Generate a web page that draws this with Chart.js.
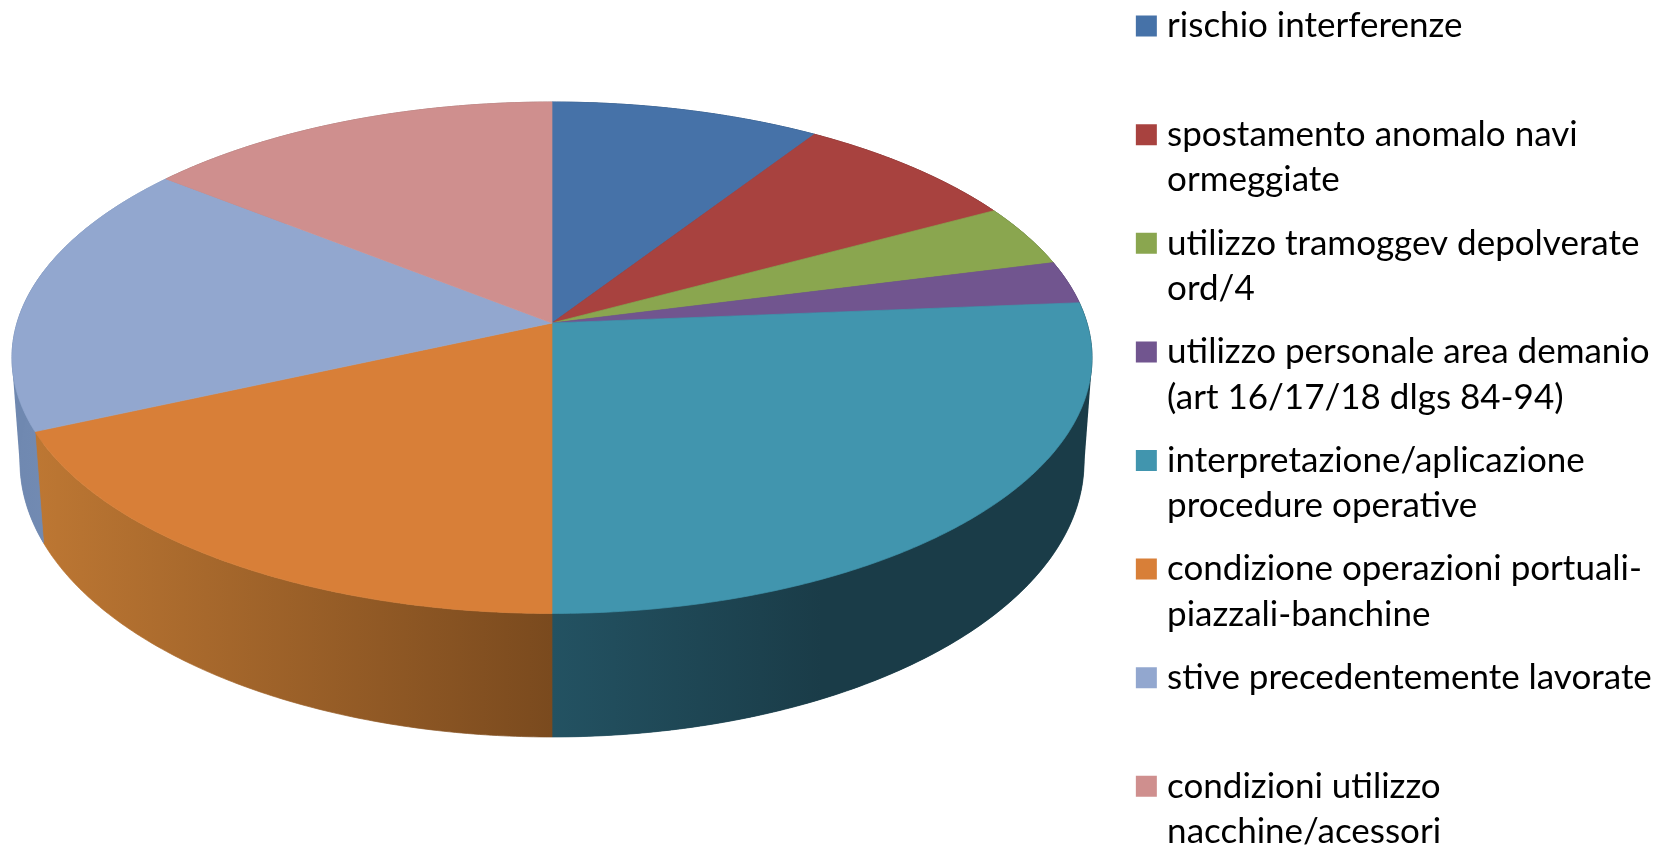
<!DOCTYPE html>
<html>
<head>
<meta charset="utf-8">
<title>Grafico</title>
<script src="https://cdn.jsdelivr.net/npm/chart.js@4/dist/chart.umd.min.js"></script>
<style>
html, body { margin: 0; padding: 0; background: #fff; overflow: hidden; }
canvas { display: block; }
</style>
</head>
<body>
<canvas id="pie" width="1659" height="845"></canvas>
<script>
var categories = [
    ['rischio interferenze', ''],
    ['spostamento anomalo navi', 'ormeggiate'],
    ['utilizzo tramoggev depolverate', 'ord/4'],
    ['utilizzo personale area demanio', '(art 16/17/18 dlgs 84-94)'],
    ['interpretazione/aplicazione', 'procedure operative'],
    ['condizione operazioni portuali-', 'piazzali-banchine'],
    ['stive precedentemente lavorate', ''],
    ['condizioni utilizzo', 'nacchine/acessori']
];
var values = [9.2, 7.9, 3.9, 2.7, 26.3, 18.3, 17.4, 14.3];
var colors = ['#4672a8', '#a8423f', '#8aa64f', '#71558f', '#4195ae', '#d87f38', '#92a7cf', '#cf8f8e'];

// side wall colours, left and right end of the gradient
var wallLeft = ['#2f4f78', '#78302d', '#627638', '#503c66', '#235262', '#bd7733', '#6f88b0', '#936665'];
var wallRight = ['#2f4f78', '#78302d', '#627638', '#503c66', '#1a3c48', '#7a4a1e', '#7d94bb', '#936665'];

// perspective of the top and bottom disc
var topDisc = { x: 552, y: 323, a: 251, b: 535, k: 0.1359 };
var bottomDisc = { x: 552, y: 426.3, a: 270.3, b: 527.5, k: 0.13 };

function project(disc, angle) {
    var u = Math.cos(angle);
    var v = Math.sin(angle);
    var w = 1 - disc.k * v;
    return { x: disc.x + disc.b * u / w, y: disc.y + disc.a * v / w };
}

function rimPoints(disc, start, end) {
    var pts = [];
    var steps = Math.max(2, Math.ceil((end - start) / 0.01));
    for (var i = 0; i <= steps; i++) {
        pts.push(project(disc, start + (end - start) * i / steps));
    }
    return pts;
}

function tracePath(ctx, pts) {
    ctx.beginPath();
    for (var i = 0; i < pts.length; i++) {
        if (i === 0) ctx.moveTo(pts[i].x, pts[i].y);
        else ctx.lineTo(pts[i].x, pts[i].y);
    }
    ctx.closePath();
}

function paint(ctx, pts, style) {
    tracePath(ctx, pts);
    ctx.fillStyle = style;
    ctx.strokeStyle = style;
    ctx.lineWidth = 0.7;
    ctx.fill();
    ctx.stroke();
}

function convexHull(points) {
    var pts = points.slice().sort(function(p, q) { return p.x - q.x || p.y - q.y; });
    function cross(o, p, q) {
        return (p.x - o.x) * (q.y - o.y) - (p.y - o.y) * (q.x - o.x);
    }
    function halfHull(list) {
        var out = [];
        for (var i = 0; i < list.length; i++) {
            while (out.length > 1 && cross(out[out.length - 2], out[out.length - 1], list[i]) <= 0) out.pop();
            out.push(list[i]);
        }
        out.pop();
        return out;
    }
    return halfHull(pts).concat(halfHull(pts.slice().reverse()));
}

var pie3d = {
    id: 'pie3d',
    beforeDatasetsDraw: function(chart) {
        var ctx = chart.ctx;
        var arcs = chart.getDatasetMeta(0).data;
        var i, upper, lower, grad;
        var hull = convexHull(rimPoints(topDisc, 0, Math.PI * 2).concat(rimPoints(bottomDisc, 0, Math.PI * 2)));
        var leftEdge = project(bottomDisc, arcs[5].endAngle).x;

        ctx.save();
        ctx.lineJoin = 'round';

        // straight sides of the outline, between the two discs
        tracePath(ctx, hull);
        ctx.save();
        ctx.clip();
        ctx.fillStyle = wallLeft[6];
        ctx.fillRect(0, 0, leftEdge, chart.height);
        ctx.fillStyle = wallRight[4];
        ctx.fillRect(topDisc.x, 0, chart.width, chart.height);
        ctx.restore();

        for (i = 0; i < arcs.length; i++) {
            upper = rimPoints(topDisc, arcs[i].startAngle, arcs[i].endAngle);
            lower = rimPoints(bottomDisc, arcs[i].startAngle, arcs[i].endAngle);
            var xs = upper.concat(lower).map(function(p) { return p.x; });
            grad = ctx.createLinearGradient(Math.min.apply(null, xs), 0, Math.max.apply(null, xs), 0);
            grad.addColorStop(0, wallLeft[i]);
            if (i === 4) grad.addColorStop(0.5, wallRight[i]);
            grad.addColorStop(1, wallRight[i]);
            paint(ctx, upper.concat(lower.reverse()), grad);
        }

        for (i = 0; i < arcs.length; i++) {
            upper = rimPoints(topDisc, arcs[i].startAngle, arcs[i].endAngle);
            paint(ctx, [{ x: topDisc.x, y: topDisc.y }].concat(upper), colors[i]);
        }
        ctx.restore();
        return false;
    }
};

new Chart(document.getElementById('pie'), {
    type: 'pie',
    data: {
        labels: categories,
        datasets: [{
            data: values,
            backgroundColor: colors,
            borderColor: colors,
            borderWidth: 14.5
        }]
    },
    options: {
        responsive: false,
        animation: false,
        layout: { padding: { top: -9, right: 0 } },
        plugins: {
            tooltip: { enabled: false },
            legend: {
                position: 'right',
                align: 'start',
                maxWidth: 533.5,
                labels: {
                    color: '#000',
                    boxWidth: 6.5,
                    boxHeight: 6.5,
                    padding: 17.6,
                    font: { family: 'Lato', size: 35, lineHeight: '45.5px' }
                }
            }
        }
    },
    plugins: [pie3d]
});
</script>
</body>
</html>
